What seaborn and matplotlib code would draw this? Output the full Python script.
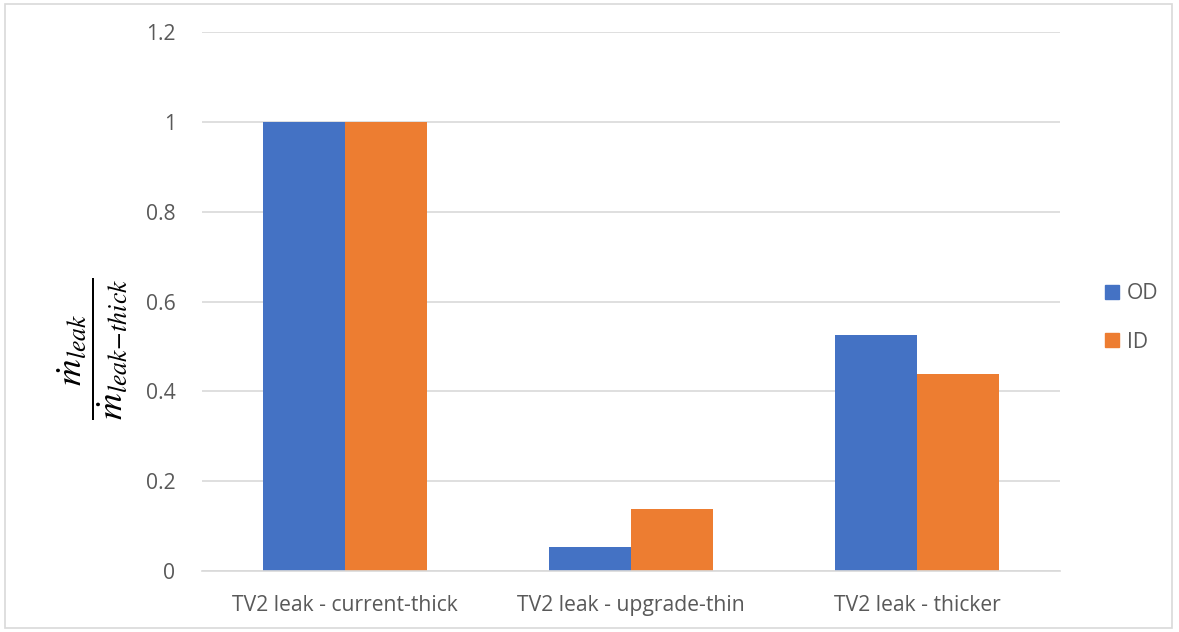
import matplotlib
matplotlib.use("Agg")
import matplotlib.pyplot as plt
import seaborn as sns
import pandas as pd
from matplotlib.patches import Rectangle

categories = ["TV2 leak - current-thick", "TV2 leak - upgrade-thin", "TV2 leak - thicker"]
series = ["OD", "ID"]
od_values = [1.0, 0.054, 0.526]
id_values = [1.0, 0.137, 0.438]
y_ticks = [0, 0.2, 0.4, 0.6, 0.8, 1, 1.2]
y_tick_labels = ["0", "0.2", "0.4", "0.6", "0.8", "1", "1.2"]
colors = {"OD": "#4472C4", "ID": "#ED7D31"}

df = pd.DataFrame({
    "category": categories * 2,
    "series": ["OD"] * 3 + ["ID"] * 3,
    "value": od_values + id_values,
})

sns.set_theme(style="white")
plt.rcParams["font.family"] = ["Open Sans", "DejaVu Sans"]
plt.rcParams["mathtext.fontset"] = "stix"

fig = plt.figure(figsize=(11.79, 6.32), dpi=100)
ax = fig.add_axes([202 / 1179, 1 - 571 / 632, (1060 - 202) / 1179, (571 - 32) / 632])

sns.barplot(data=df, x="category", y="value", hue="series", order=categories,
            hue_order=series, palette=colors, width=0.575, saturation=1,
            linewidth=0, ax=ax, legend=False)

ax.set_ylim(0, 1.2)
ax.set_xlim(-0.5, 2.5)
ax.set_yticks(y_ticks)
ax.set_yticklabels(y_tick_labels)
ax.yaxis.grid(True, color="#D9D9D9", linewidth=1.2)
ax.set_axisbelow(True)
for s in ["top", "right", "left"]:
    ax.spines[s].set_visible(False)
ax.spines["bottom"].set_color("#D9D9D9")
ax.spines["bottom"].set_linewidth(1.2)
ax.tick_params(axis="both", length=0, colors="#595959", labelsize=15.2)
ax.tick_params(axis="y", pad=19)
ax.tick_params(axis="x", pad=17)
ax.set_xlabel("")
ax.set_ylabel(r"$\dfrac{\dot{m}_{leak}}{\dot{m}_{leak\!-\!thick}}$", fontsize=26.5,
              color="black")
ax.yaxis.set_label_coords(-72 / 858, (571 - 349) / 539)

# legend on the right
handles = [Rectangle((0, 0), 1, 1, color=colors[s]) for s in series]
fig.legend(handles, series, loc="center left", bbox_to_anchor=(1086 / 1179, 1 - 318 / 632),
           frameon=False, fontsize=15.2, labelcolor="#595959", handlelength=0.65,
           handleheight=0.65, handletextpad=0.4, labelspacing=1.3)

# chart-area border
fig.patches.append(Rectangle((5 / 1179, 4 / 632), 1167 / 1179, 624 / 632,
                             transform=fig.transFigure, fill=False,
                             edgecolor="#D9D9D9", linewidth=1.2))

fig.savefig("out.png", dpi=100)
